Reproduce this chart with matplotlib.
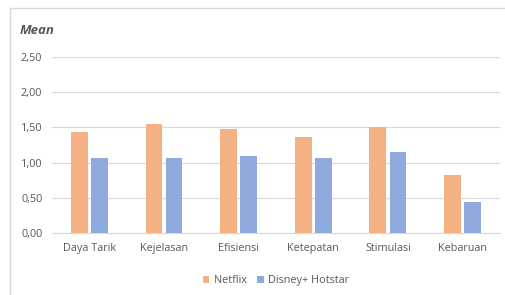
import numpy as np
import matplotlib.pyplot as plt
from matplotlib.patches import Rectangle

categories = ["Daya Tarik", "Kejelasan", "Efisiensi", "Ketepatan", "Stimulasi", "Kebaruan"]
netflix = [1.43, 1.55, 1.47, 1.36, 1.50, 0.82]
disney = [1.07, 1.06, 1.09, 1.06, 1.15, 0.44]
yticks = [0.0, 0.5, 1.0, 1.5, 2.0, 2.5]

plt.rcParams['font.family'] = ['Open Sans', 'DejaVu Sans']

fig = plt.figure(figsize=(5.05, 2.95), dpi=100)
fig.patches.append(Rectangle((10 / 505, -0.01), 1.0, 1 - 8 / 295 + 0.01,
                             transform=fig.transFigure, fill=False,
                             edgecolor="#D9D9D9", linewidth=1))
ax = fig.add_axes([0.103, 0.21, 0.887, 0.597])

x = np.arange(len(categories))
w = 0.225
ax.bar(x - 0.135, netflix, w, color="#F4B183", label="Netflix", zorder=3)
ax.bar(x + 0.135, disney, w, color="#8FAADC", label="Disney+ Hotstar", zorder=3)

ax.set_xlim(-0.5, len(categories) - 0.5)
ax.set_ylim(0, 2.5)
ax.set_yticks(yticks)
ax.set_yticklabels([f"{v:.2f}".replace(".", ",") for v in yticks], fontsize=7.8, color="#595959")
ax.set_xticks(x)
ax.set_xticklabels(categories, fontsize=7.8, color="#595959")
ax.tick_params(length=0, pad=7)
ax.yaxis.grid(True, color="#D9D9D9", linewidth=0.8, zorder=0)
for s in ["top", "right", "left"]:
    ax.spines[s].set_visible(False)
ax.spines["bottom"].set_color("#D9D9D9")

fig.text(20 / 505, 1 - 30 / 295, "Mean", fontsize=9.5, fontweight="bold",
         fontstyle="italic", color="#595959", va="center")

ax.legend(loc="center", bbox_to_anchor=(0.5, -0.27), ncol=2, frameon=False,
          fontsize=7.8, handlelength=0.6, handleheight=0.6, columnspacing=1.0,
          handletextpad=0.4, labelcolor="#595959")

fig.savefig("out.png", dpi=100)
